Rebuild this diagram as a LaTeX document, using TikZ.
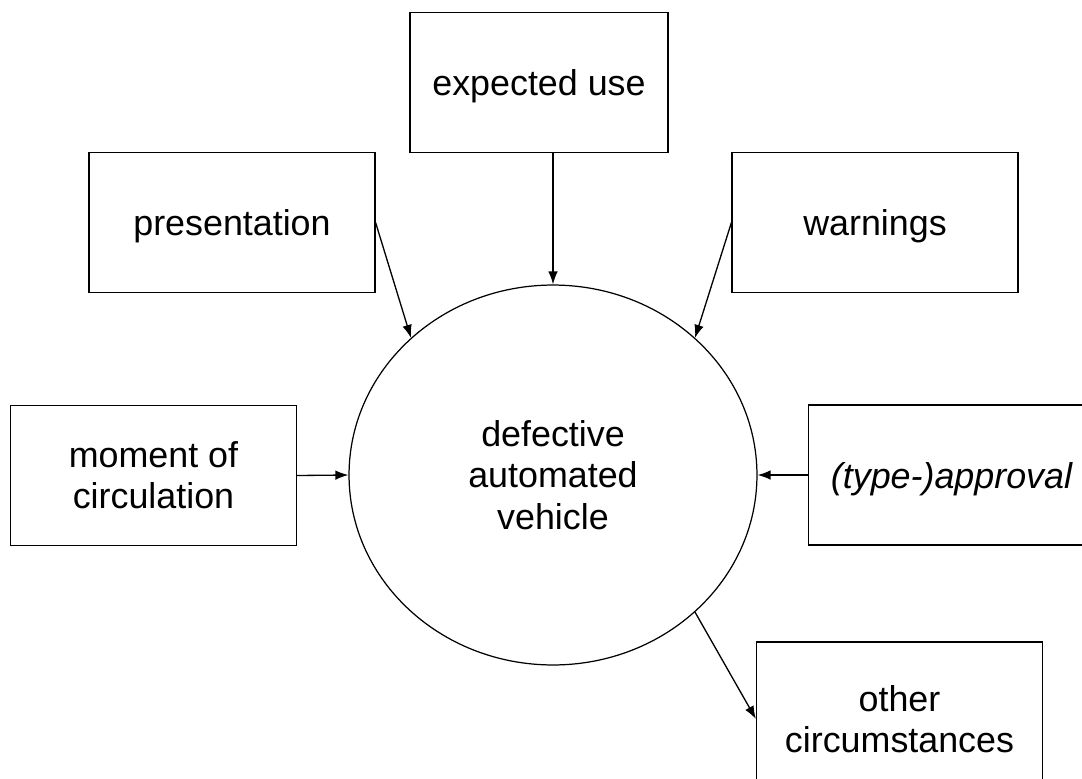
\documentclass[tikz,border=0pt]{standalone}
\usepackage{fontspec}
\setmainfont{Liberation Sans}
\usetikzlibrary{shapes.geometric,arrows.meta}

\begin{document}
\begin{tikzpicture}[x=0.02cm,y=-0.02cm]
\tikzstyle{box}=[draw,line width=0.7pt,minimum width=5.72cm,minimum height=2.8cm,align=center,font=\fontsize{20.4}{23.5}\selectfont,execute at begin node={\rule{0pt}{19.5pt}}];
\tikzstyle{conn}=[line width=0.75pt,-{Latex[length=2.6mm,width=1.9mm]}];
\useasboundingbox (0,0) rectangle (1082,778);
\node (V) at (553,475) [draw,ellipse,line width=0.7pt,inner sep=0pt,minimum width=8.16cm,minimum height=7.6cm,align=center,font=\fontsize{20.4}{23.5}\selectfont] {defective\\automated\\vehicle};
\node (EU) at (539,82.5) [box,minimum width=5.16cm] {expected use};
\node (PR) at (232,222.5) [box] {presentation};
\node (WA) at (875,222.5) [box] {warnings};
\node (MC) at (153.5,475.5) [box] {moment of\\circulation};
\node (TA) at (951.5,475) [box] {\itshape (type-)approval};
\node (OC) at (899.5,719) [box,minimum height=3.08cm] {other\\circumstances};
\draw[conn] (V.north |- EU.south) -- (V.north);
\draw[conn] (PR.east) -- (V.136);
\draw[conn] (WA.west) -- (V.44);
\draw[conn] (MC.east) -- (V.west);
\draw[conn] (TA.west) -- (V.east);
\draw[conn] (V.-44) -- (OC.west);
\end{tikzpicture}
\end{document}
